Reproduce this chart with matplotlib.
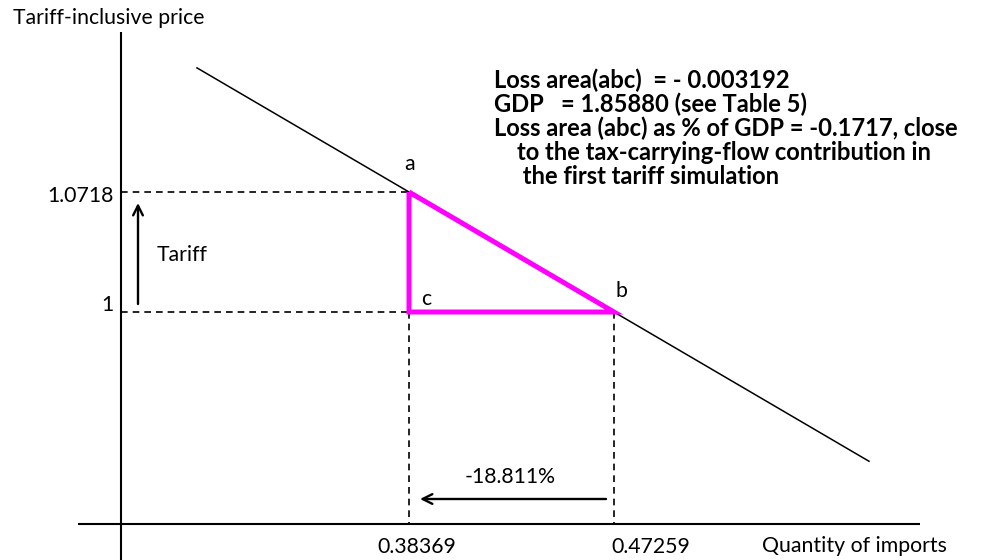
import matplotlib
matplotlib.use("Agg")
import matplotlib.pyplot as plt

# ---- data ----
price_levels = [1.0, 1.0718]          # free-trade price, tariff-inclusive price
quantities = [0.47259, 0.38369]       # imports before / after tariff
point_labels = ["b", "a", "c"]
pct_change = "-18.811%"
y_axis_title = "Tariff-inclusive price"
x_axis_title = "Quantity of imports"
note_lines = [
    "Loss area(abc)  = - 0.003192",
    "GDP   = 1.85880 (see Table 5)",
    "Loss area (abc) as % of GDP = -0.1717, close",
    "    to the tax-carrying-flow contribution in",
    "     the first tariff simulation",
]

W, H = 983, 560
FONT = "Lato"

fig = plt.figure(figsize=(W / 100, H / 100), dpi=100)
ax = fig.add_axes([0, 0, 1, 1])
ax.axis("off")

# scale so that the diagram sits where the reference has it
xa, xb = quantities[1], quantities[0]
pa, pb = price_levels[1], price_levels[0]
px_a, px_b = 409.0, 614.0
py_a, py_b = 192.0, 312.0
sx = (px_b - px_a) / (xb - xa)
sy = (py_b - py_a) / (pa - pb)
x0 = xa - px_a / sx
y_top = pb + py_b / sy
ax.set_xlim(x0, x0 + W / sx)
ax.set_ylim(y_top - H / sy, y_top)

def dx(p):
    return x0 + p / sx

def dy(p):
    return y_top - p / sy

# axes of the diagram
yaxis_x = dx(121)
xaxis_y = dy(524)
ax.plot([yaxis_x, yaxis_x], [dy(32), dy(560)], color="black", lw=1.5, solid_capstyle="butt")
ax.plot([dx(78), dx(920)], [xaxis_y, xaxis_y], color="black", lw=1.5, solid_capstyle="butt")

# demand line through a and b
slope = (pa - pb) / (xa - xb)
lx = [dx(197), dx(869)]
ly = [pb + slope * (v - xb) for v in lx]
ax.plot(lx, ly, color="black", lw=1.1)

# dashed guides
dash = dict(color="black", lw=1.2, ls=(0, (4, 3)))
ax.plot([yaxis_x, xa], [pa, pa], **dash)
ax.plot([yaxis_x, xb], [pb, pb], **dash)
ax.plot([xa, xa], [pb, xaxis_y], **dash)
ax.plot([xb, xb], [pb, xaxis_y], **dash)

# loss triangle abc
ax.plot([xa, xb, xa, xa], [pa, pb, pb, pa], color="#FF00FF", lw=3.6,
        solid_joinstyle="miter", solid_capstyle="butt")

# arrows
arrow = dict(arrowstyle="->,head_length=0.7,head_width=0.35", color="black", lw=1.7,
             shrinkA=0, shrinkB=0)
ax.annotate("", xy=(dx(138), dy(203)), xytext=(dx(138), dy(304)), arrowprops=arrow)
ax.annotate("", xy=(dx(420), dy(499)), xytext=(dx(606), dy(499)), arrowprops=arrow)

def T(px, py, s, ha="left", va="center", size=15.3, weight="normal"):
    ax.text(dx(px), dy(py), s, ha=ha, va=va, fontsize=size, family=FONT,
            weight=weight, color="black")

T(13, 18, y_axis_title)
T(762, 546, x_axis_title)
T(114, 196, f"{pa:.4f}", ha="right")
T(114, 305, f"{pb:g}", ha="right")
T(417, 547, f"{xa:.5f}", ha="center")
T(651, 547, f"{xb:.5f}", ha="center")
T(409.5, 164, point_labels[1], ha="center")
T(621.5, 291, point_labels[0], ha="center")
T(426, 299, point_labels[2], ha="center")
T(157, 255, "Tariff")
T(510, 477, pct_change, ha="center")

for i, line in enumerate(note_lines):
    T(494, 80 + 24.2 * i, line, size=17.1, weight="bold")

fig.savefig("out.png", dpi=100)
